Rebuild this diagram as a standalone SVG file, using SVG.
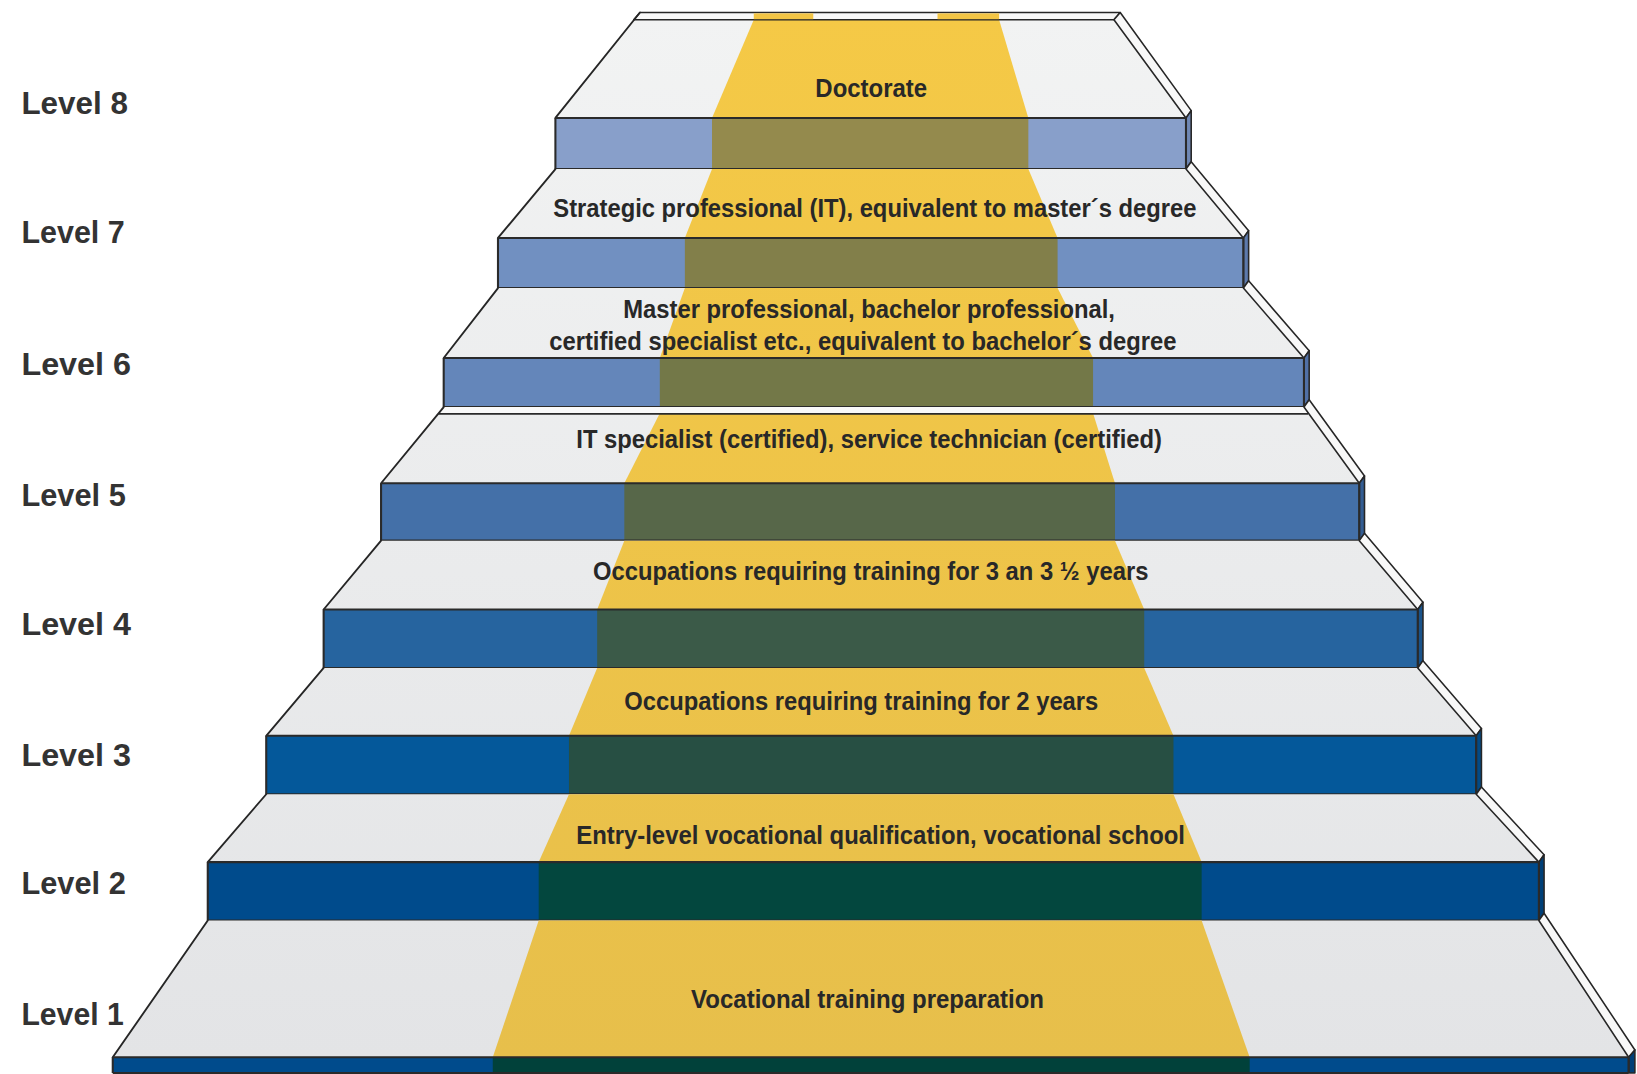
<svg xmlns="http://www.w3.org/2000/svg" width="1637" height="1074" viewBox="0 0 1637 1074">
  <defs>
    <linearGradient id="treadG" gradientUnits="userSpaceOnUse" x1="0" y1="12" x2="0" y2="1013">
      <stop offset="0" stop-color="#f2f3f3"/>
      <stop offset="1" stop-color="#e3e4e6"/>
    </linearGradient>
    <linearGradient id="bandG" gradientUnits="userSpaceOnUse" x1="0" y1="12" x2="0" y2="1013">
      <stop offset="0" stop-color="#f5c946"/>
      <stop offset="1" stop-color="#e7bf4b"/>
    </linearGradient>
    <style>
      .tread { fill: url(#treadG); }
      .band { fill: url(#bandG); }
      .face { fill: #f8f8f8; stroke: #262626; stroke-width: 1.5; stroke-linejoin: round; }
      .edge { fill: none; stroke: #262626; stroke-width: 1.8; stroke-linecap: round; }
      .rim { fill: none; stroke: #2a2a2a; stroke-width: 2; }
      .step { font-family: "Liberation Sans Narrow", "Liberation Sans", Arial, sans-serif; font-weight: bold; font-size: 25px; fill: #282828; text-anchor: middle; }
      .lvl { font-family: "Liberation Sans", Arial, sans-serif; font-weight: bold; font-size: 30px; fill: #333333; }
    </style>
  </defs>
  <rect width="1637" height="1074" fill="#ffffff"/>

  <g transform="scale(1.044 1.0437)">

    <!-- Level 8: top slab -->
    <g id="level-8">
      <polygon class="tread" points="607,19 1067,19 1136,113 532,113"/>
      <polygon class="band" points="722,19 957,19 985,113 682,113"/>
      <polygon class="face" points="613,12 1073,12 1067,19 607,19"/>
      <rect x="722" y="12.8" width="57" height="5.6" fill="#f3c545"/>
      <rect x="898" y="12.8" width="59" height="5.6" fill="#f3c545"/>
      <polygon class="face" points="1067,19 1073,12 1141,106 1136,113"/>
      <rect x="532" y="113" width="604" height="49" fill="#889fca"/>
      <rect x="682" y="113" width="303" height="49" fill="#948a4d"/>
      <polygon class="face" points="1136,113 1141,106 1141,155 1136,162" style="fill:#7088b4"/>
      <path class="edge" d="M613 12 L532 113"/>
      <path class="rim" d="M532 113 H1136 M532 162 H1136 M532 113 V162 M1136 113 V162"/>
      <text class="step" x="834.5" y="92.5" textLength="107" lengthAdjust="spacingAndGlyphs">Doctorate</text>
      <text class="lvl" x="20.5" y="109.5" textLength="102" lengthAdjust="spacingAndGlyphs">Level 8</text>
    </g>

    <!-- Level 7 -->
    <g id="level-7">
      <polygon class="tread" points="532,162 1136,162 1191,228 477,228"/>
      <polygon class="band" points="682,162 985,162 1013,228 656,228"/>
      <polygon class="face" points="1136,162 1141,155 1196,221 1191,228"/>
      <rect x="477" y="228" width="714" height="48" fill="#7190c1"/>
      <rect x="656" y="228" width="357" height="48" fill="#827f4a"/>
      <polygon class="face" points="1191,228 1196,221 1196,269 1191,276" style="fill:#5c79ab"/>
      <path class="edge" d="M532 162 L477 228"/>
      <path class="rim" d="M477 228 H1191 M477 276 H1191 M477 228 V276 M1191 228 V276"/>
      <text class="step" x="838" y="207.5" textLength="616" lengthAdjust="spacingAndGlyphs">Strategic professional (IT), equivalent to master´s degree</text>
      <text class="lvl" x="20.5" y="233" textLength="99" lengthAdjust="spacingAndGlyphs">Level 7</text>
    </g>

    <!-- Level 6 -->
    <g id="level-6">
      <polygon class="tread" points="477,276 1191,276 1249,343 425,343"/>
      <polygon class="band" points="656,276 1013,276 1047,343 632,343"/>
      <polygon class="face" points="1191,276 1196,269 1254,336 1249,343"/>
      <rect x="425" y="343" width="824" height="47" fill="#6486ba"/>
      <rect x="632" y="343" width="415" height="47" fill="#737848"/>
      <polygon class="face" points="1249,343 1254,336 1254,383 1249,390" style="fill:#5070a6"/>
      <path class="edge" d="M477 276 L425 343"/>
      <path class="rim" d="M425 343 H1249 M425 390 H1249 M425 343 V390 M1249 343 V390"/>
      <text class="step" x="832.5" y="304.5" textLength="471" lengthAdjust="spacingAndGlyphs">Master professional, bachelor professional,</text>
      <text class="step" x="826.5" y="335.5" textLength="601" lengthAdjust="spacingAndGlyphs">certified specialist etc., equivalent to bachelor´s degree</text>
      <text class="lvl" x="20.5" y="359" textLength="105" lengthAdjust="spacingAndGlyphs">Level 6</text>
    </g>

    <!-- Level 5 -->
    <g id="level-5">
      <polygon class="tread" points="425,390 1249,390 1302,463 365,463"/>
      <rect x="422" y="390" width="830" height="6" fill="#f9f9f9"/>
      <polygon class="band" points="632,396 1047,396 1068,463 598,463"/>
      <path class="rim" d="M420 396.5 H1253" style="stroke-width:1.6"/>
      <polygon class="face" points="1249,390 1254,383 1307,456 1302,463"/>
      <rect x="365" y="463" width="937" height="55" fill="#4470a8"/>
      <rect x="598" y="463" width="470" height="55" fill="#576749"/>
      <polygon class="face" points="1302,463 1307,456 1307,511 1302,518" style="fill:#335d93"/>
      <path class="edge" d="M425 390 L365 463"/>
      <path class="rim" d="M365 463 H1302 M365 518 H1302 M365 463 V518 M1302 463 V518"/>
      <text class="step" x="832.5" y="429.5" textLength="561" lengthAdjust="spacingAndGlyphs">IT specialist (certified), service technician (certified)</text>
      <text class="lvl" x="20.5" y="485" textLength="100" lengthAdjust="spacingAndGlyphs">Level 5</text>
    </g>

    <!-- Level 4 -->
    <g id="level-4">
      <polygon class="tread" points="365,518 1302,518 1358,584 310,584"/>
      <polygon class="band" points="598,518 1068,518 1096,584 572,584"/>
      <polygon class="face" points="1302,518 1307,511 1363,577 1358,584"/>
      <rect x="310" y="584" width="1048" height="56" fill="#26649f"/>
      <rect x="572" y="584" width="524" height="56" fill="#3b5a48"/>
      <polygon class="face" points="1358,584 1363,577 1363,633 1358,640" style="fill:#1a538a"/>
      <path class="edge" d="M365 518 L310 584"/>
      <path class="rim" d="M310 584 H1358 M310 640 H1358 M310 584 V640 M1358 584 V640"/>
      <text class="step" x="834" y="555.5" textLength="532" lengthAdjust="spacingAndGlyphs">Occupations requiring training for 3 an 3 ½ years</text>
      <text class="lvl" x="20.5" y="608" textLength="105" lengthAdjust="spacingAndGlyphs">Level 4</text>
    </g>

    <!-- Level 3 -->
    <g id="level-3">
      <polygon class="tread" points="310,640 1358,640 1414,705 255,705"/>
      <polygon class="band" points="572,640 1096,640 1124,705 545,705"/>
      <polygon class="face" points="1358,640 1363,633 1419,698 1414,705"/>
      <rect x="255" y="705" width="1159" height="56" fill="#04589a"/>
      <rect x="545" y="705" width="579" height="56" fill="#274f43"/>
      <polygon class="face" points="1414,705 1419,698 1419,754 1414,761" style="fill:#034a84"/>
      <path class="edge" d="M310 640 L255 705"/>
      <path class="rim" d="M255 705 H1414 M255 761 H1414 M255 705 V761 M1414 705 V761"/>
      <text class="step" x="825" y="680.5" textLength="454" lengthAdjust="spacingAndGlyphs">Occupations requiring training for 2 years</text>
      <text class="lvl" x="20.5" y="734" textLength="105" lengthAdjust="spacingAndGlyphs">Level 3</text>
    </g>

    <!-- Level 2 -->
    <g id="level-2">
      <polygon class="tread" points="255,761 1414,761 1474,826 199,826"/>
      <polygon class="band" points="545,761 1124,761 1151,826 516,826"/>
      <polygon class="face" points="1414,761 1419,754 1479,819 1474,826"/>
      <rect x="199" y="826" width="1275" height="56" fill="#004b8c"/>
      <rect x="516" y="826" width="635" height="56" fill="#03473e"/>
      <polygon class="face" points="1474,826 1479,819 1479,875 1474,882" style="fill:#003f77"/>
      <path class="edge" d="M255 761 L199 826"/>
      <path class="rim" d="M199 826 H1474 M199 882 H1474 M199 826 V882 M1474 826 V882"/>
      <text class="step" x="843.5" y="808.5" textLength="583" lengthAdjust="spacingAndGlyphs">Entry-level vocational qualification, vocational school</text>
      <text class="lvl" x="20.5" y="857" textLength="100" lengthAdjust="spacingAndGlyphs">Level 2</text>
    </g>

    <!-- Level 1: base step -->
    <g id="level-1">
      <polygon class="tread" points="199,882 1474,882 1560,1013 108,1013"/>
      <polygon class="band" points="516,882 1151,882 1197,1013 472,1013"/>
      <polygon class="face" points="1474,882 1479,875 1566,1006 1560,1013"/>
      <rect x="108" y="1013" width="1452" height="15" fill="#004b8c"/>
      <rect x="472" y="1013" width="725" height="15" fill="#01413a"/>
      <polygon class="face" points="1560,1013 1566,1006 1566,1028 1560,1028" style="fill:#003f77"/>
      <path class="edge" d="M199 882 L108 1013"/>
      <path class="rim" d="M108 1013 H1560 M108 1028 H1560 M108 1013 V1028 M1560 1013 V1028"/>
      <text class="step" x="831" y="965.5" textLength="338" lengthAdjust="spacingAndGlyphs">Vocational training preparation</text>
      <text class="lvl" x="20.5" y="982" textLength="98" lengthAdjust="spacingAndGlyphs">Level 1</text>
    </g>

  </g>
</svg>
